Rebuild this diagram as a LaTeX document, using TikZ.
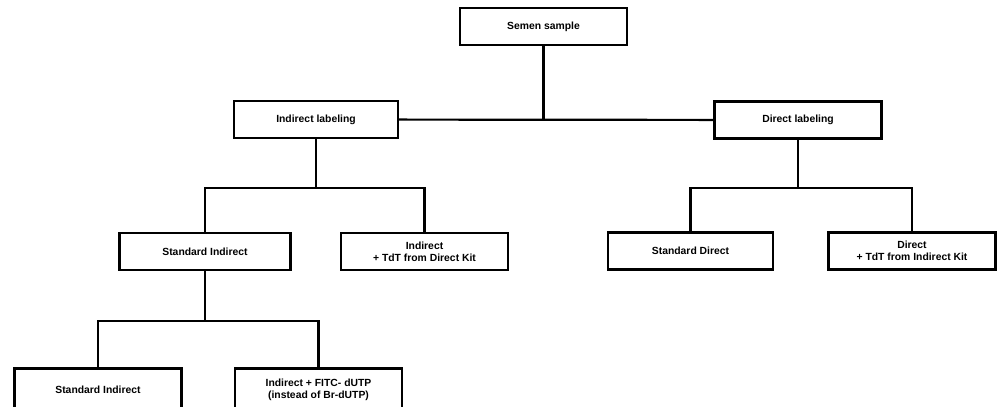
\documentclass[tikz,border=0pt]{standalone}
\usepackage{fontspec}
\setmainfont{Liberation Sans}
\begin{document}
\begin{tikzpicture}[x=0.02cm, y=-0.02cm, line width=1.25pt,
  every node/.style={font=\fontsize{5.9}{6.9}\selectfont\bfseries},
  labelbox/.style={draw, minimum width=3.34cm, minimum height=0.74cm, align=center, inner sep=0pt}]
\useasboundingbox (0, 0) rectangle (1000, 406);
\clip (0, 0) rectangle (1000, 406);

% top
\node[labelbox] (semen) at (543.5, 26.5) {Semen sample};

\node[labelbox, minimum width=3.28cm] (indlab) at (316, 119.5) {Indirect labeling};
\node[labelbox] (dirlab) at (798, 120) {Direct labeling};

% second level
\node[labelbox, minimum width=3.42cm] (stdind) at (205, 251.5) {Standard Indirect};
\node[labelbox] (indtdt) at (424.5, 251.5) {Indirect\\+ TdT from Direct Kit};

\node[labelbox, minimum width=3.3cm] (stddir) at (690.5, 251) {Standard Direct};
\node[labelbox] (dirtdt) at (912, 251) {Direct\\+ TdT from Indirect Kit};

% third level (cut off at the bottom)
\node[labelbox, minimum height=0.86cm] (stdind2) at (98, 390) {Standard Indirect};
\node[labelbox, minimum height=0.86cm] (fitc) at (318.5, 390) {Indirect + FITC- dUTP\\(instead of Br-dUTP)};

% connectors
\draw (indlab) -- (dirlab);
\draw (semen) -- (semen |- indlab.east);

\draw (indlab) -- (indlab.south |- 0, 188);
\draw (stdind) -- (stdind.north |- 0, 188) -| (indtdt);

\draw (dirlab) -- (dirlab.south |- 0, 188);
\draw (stddir) -- (stddir.north |- 0, 188) -| (dirtdt);

\draw (stdind) -- (stdind.south |- 0, 321);
\draw (stdind2) -- (stdind2.north |- 0, 321) -| (fitc);

\end{tikzpicture}
\end{document}
